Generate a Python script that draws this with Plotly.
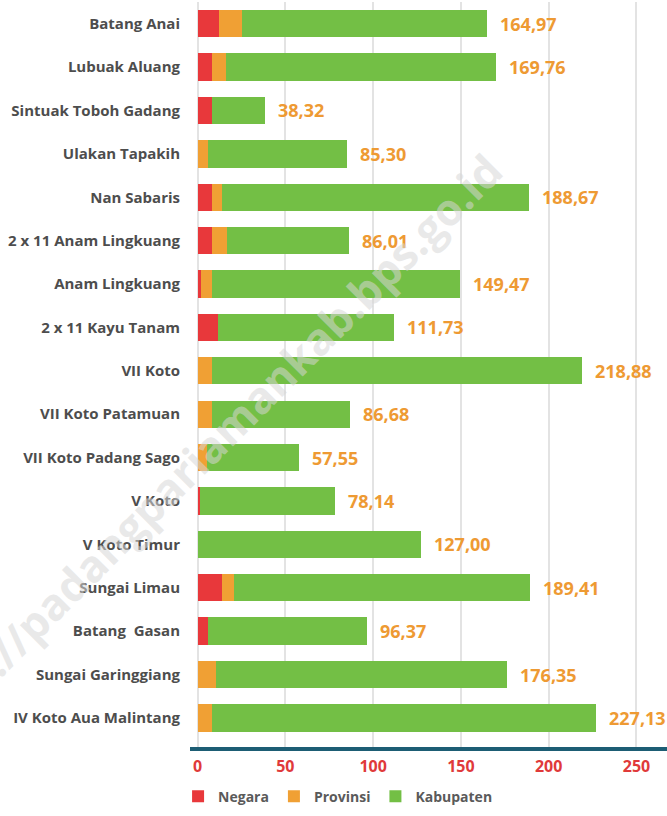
import plotly.graph_objects as go

kecamatan = [
    "Batang Anai", "Lubuak Aluang", "Sintuak Toboh Gadang", "Ulakan Tapakih",
    "Nan Sabaris", "2 x 11 Anam Lingkuang", "Anam Lingkuang", "2 x 11 Kayu Tanam",
    "VII Koto", "VII Koto Patamuan", "VII Koto Padang Sago", "V Koto",
    "V Koto Timur", "Sungai Limau", "Batang  Gasan", "Sungai Garinggiang",
    "IV Koto Aua Malintang",
]

negara = [12.5, 8.5, 8.0, 0, 8.0, 8.2, 2.0, 11.5, 0, 0, 0, 1.5, 0, 14.0, 6.0, 0, 0]
provinsi = [13.0, 7.5, 0, 6.0, 6.0, 8.7, 6.5, 0, 8.0, 8.5, 5.5, 0, 0, 7.0, 0, 10.5, 8.0]
kabupaten = [139.47, 153.76, 30.32, 79.30, 174.67, 69.11, 140.97, 100.23, 210.88,
             78.18, 52.05, 76.64, 127.00, 168.41, 90.37, 165.85, 219.13]
total = [164.97, 169.76, 38.32, 85.30, 188.67, 86.01, 149.47, 111.73, 218.88,
         86.68, 57.55, 78.14, 127.00, 189.41, 96.37, 176.35, 227.13]

fig = go.Figure()

for name, vals, color in [
    ("Negara", negara, "#e8383b"),
    ("Provinsi", provinsi, "#f0a034"),
    ("Kabupaten", kabupaten, "#73bf45"),
]:
    fig.add_trace(
        go.Bar(
            y=kecamatan,
            x=vals,
            name=name,
            orientation="h",
            marker=dict(color=color, line=dict(width=0)),
        )
    )

# value labels at the end of each bar
for k, t in zip(kecamatan, total):
    fig.add_annotation(
        x=t, y=k, text=f"{t:.2f}".replace(".", ","),
        xanchor="left", xshift=11, showarrow=False,
        font=dict(family="Open Sans", size=18, color="#ee9a33", weight="bold"),
    )

# watermark
fig.add_annotation(
    x=0.02, y=0.39, xref="paper", yref="paper",
    xanchor="center", yanchor="middle",
    text="https://padangpariamankab.bps.go.id",
    textangle=-45, showarrow=False,
    font=dict(family="Open Sans", size=44, color="rgba(215,215,215,0.55)", weight="bold"),
)

fig.update_layout(
    width=667,
    height=816,
    barmode="stack",
    bargap=0.37,
    plot_bgcolor="white",
    paper_bgcolor="white",
    margin=dict(l=190, r=0, t=2, b=69),
    font=dict(family="Open Sans", color="#555555"),
    legend=dict(
        orientation="h", x=-0.025, y=-0.045, xanchor="left", yanchor="top",
        font=dict(size=14, color="#5a5a5a", weight="bold"),
        traceorder="normal", itemwidth=30,
    ),
    xaxis=dict(
        range=[-4.3, 267.4],
        tickvals=[0, 50, 100, 150, 200, 250],
        showgrid=True, gridcolor="#e3e3e3", gridwidth=1.5,
        zeroline=False,
        showline=True, linecolor="#1d5d74", linewidth=4,
        ticks="outside", ticklen=2, tickcolor="rgba(0,0,0,0)",
        tickfont=dict(size=16, color="#e03a3a", weight="bold"),
    ),
    yaxis=dict(
        categoryorder="array", categoryarray=kecamatan,
        range=[16.67, -0.5],
        showgrid=False, zeroline=False,
        ticks="outside", ticklen=6, tickcolor="rgba(0,0,0,0)",
        tickfont=dict(size=15, color="#4d4d4d", weight="bold"),
    ),
)

fig.write_html(
    "out.html",
    config={"displayModeBar": False},
    post_script="document.body.style.margin='0';",
)
